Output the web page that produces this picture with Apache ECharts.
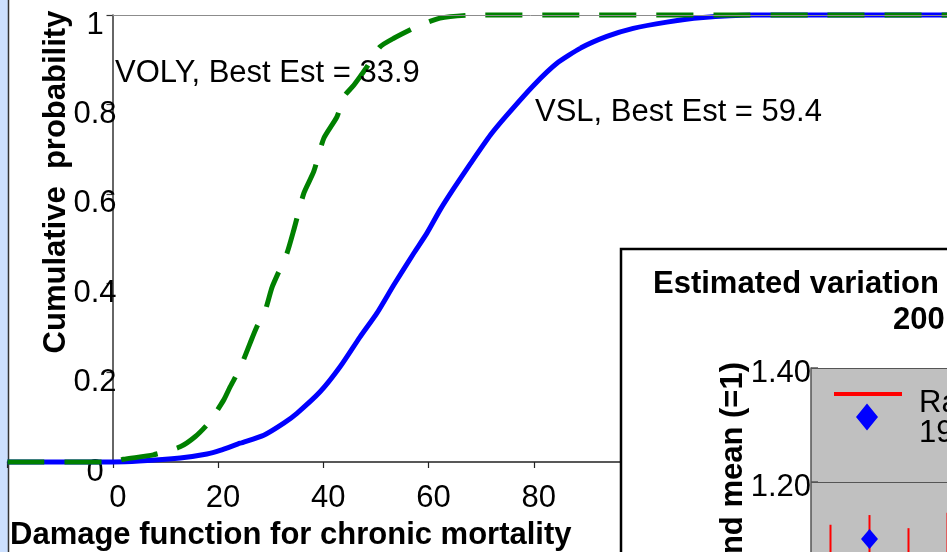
<!DOCTYPE html>
<html>
<head>
<meta charset="utf-8">
<title>Damage function for chronic mortality</title>
<script src="https://cdn.jsdelivr.net/npm/echarts@6/dist/echarts.min.js"></script>
<style>
  html, body { margin: 0; padding: 0; overflow: hidden; background: #fff; }
  #main { width: 947px; height: 552px; }
</style>
</head>
<body>
<div id="main"></div>
<script>
// cumulative probability curves
const vslX = [-20, 0, 5, 12.8, 17.9, 20.4, 24.2, 28.7, 32.5, 35.0, 39.4, 43.2, 47.0, 50.2, 53.4, 57.2, 59.7, 62.2, 64.8, 68.0, 71.8, 74.9, 80.0, 84.4, 88.9, 93.9, 98.9, 105.3, 111.6, 121.7, 160];
const vslP = [0, 0, 0.002, 0.009, 0.018, 0.026, 0.042, 0.060, 0.087, 0.109, 0.157, 0.213, 0.280, 0.333, 0.396, 0.467, 0.512, 0.564, 0.612, 0.668, 0.732, 0.776, 0.843, 0.892, 0.926, 0.952, 0.970, 0.984, 0.994, 1, 1];
const volyX = [-20, 0, 2, 7.7, 12.8, 15.7, 18.2, 21.1, 22.3, 24.2, 26.1, 27.4, 29.0, 30.3, 33.1, 34.4, 36.3, 38.2, 40.1, 42.6, 43.9, 45.8, 48.3, 50.8, 53.4, 57.8, 62.2, 68.6, 160];
const volyP = [0, 0, 0.006, 0.016, 0.034, 0.057, 0.087, 0.139, 0.168, 0.210, 0.266, 0.303, 0.340, 0.392, 0.467, 0.519, 0.601, 0.650, 0.724, 0.772, 0.817, 0.843, 0.884, 0.929, 0.948, 0.974, 0.993, 1, 1];

// inset chart (only its top left corner is visible)
const insetCats = ['1', '2', '3', '4'];
const insetHigh = [1.125, 1.142, 1.119, 1.146];
const insetLow = [0.975, 1.058, 0.96, 0.945];
const insetMean = [1.05, 1.10, 1.04, 1.045];

const FONT = '"Liberation Sans", Arial, sans-serif';

const chart = echarts.init(document.getElementById('main'));

const vslData = vslX.map((x, i) => [x, vslP[i]]);
const volyData = volyX.map((x, i) => [x, volyP[i]]);
const barData = insetCats.map((c, i) => [i, insetHigh[i], insetLow[i]]);

function errorBar(params, api) {
  const i = api.value(0);
  const top = api.coord([i, api.value(1)]);
  const bot = api.coord([i, api.value(2)]);
  return {
    type: 'line',
    shape: { x1: top[0], y1: top[1], x2: bot[0], y2: bot[1] },
    style: { stroke: '#ff0000', lineWidth: 2 }
  };
}

// legend icons: the visible mark sits at the top of the icon box so the
// legend text ends up lower, as in the picture
const lineIcon = 'path://M0,0h68v4h-68Z M0,21.9h0.01v0.1h-0.01Z';
const diamondIcon = 'path://M11,0L22,13.5L11,27L0,13.5Z M11,58.9h0.01v0.1h-0.01Z';

chart.setOption({
  animation: false,
  backgroundColor: '#ffffff',
  grid: [
    { left: 7.5, top: 15, width: 947.25, height: 447, outerBoundsMode: 'none', containLabel: false },
    { left: 811, top: 368, width: 156, height: 342, show: true, backgroundColor: '#c0c0c0',
      borderWidth: 0, outerBoundsMode: 'none', containLabel: false, z: 110 }
  ],
  xAxis: [
    {
      type: 'value', gridIndex: 0, min: -20, max: 160, interval: 20,
      axisLine: { onZero: true, lineStyle: { color: '#222', width: 1.5 } },
      axisTick: { length: 6, lineStyle: { color: '#222', width: 1.2 } },
      axisLabel: {
        margin: 21, padding: [0, 0, 0, 10], fontSize: 31, fontFamily: FONT, color: '#000',
        formatter: v => (v < 0 ? '' : String(v))
      },
      splitLine: { show: false }
    },
    {
      type: 'category', gridIndex: 1, data: insetCats, z: 110,
      axisLine: { show: false }, axisTick: { show: false }, axisLabel: { show: false }
    }
  ],
  yAxis: [
    {
      // sits at x = 0 of the main scale
      type: 'value', gridIndex: 0, min: 0, max: 1, interval: 0.2, offset: -105,
      axisLine: { show: true, onZero: false, lineStyle: { color: '#333', width: 1.5 } },
      axisTick: { show: true, length: 6, lineStyle: { color: '#333', width: 1.2 } },
      axisLabel: {
        margin: 17.5, align: 'center', verticalAlign: 'top', lineHeight: 20, fontSize: 31,
        fontFamily: FONT, color: '#000', showMinLabel: true, showMaxLabel: true
      },
      splitLine: { show: false }
    },
    {
      type: 'value', gridIndex: 1, min: 0.8, max: 1.4, interval: 0.2, z: 110,
      axisLine: { show: true, onZero: false, lineStyle: { color: '#555', width: 1.5 } },
      axisTick: { show: true, inside: true, length: 7, lineStyle: { color: '#555', width: 1.5 } },
      axisLabel: {
        margin: 0, verticalAlign: 'top', lineHeight: 10, fontSize: 31, fontFamily: FONT, color: '#000',
        showMaxLabel: true, formatter: v => v.toFixed(2)
      },
      splitLine: { show: true, lineStyle: { color: '#555', width: 1.2 } }
    }
  ],
  legend: [
    {
      data: [{ name: 'Ra', icon: lineIcon, itemStyle: { color: '#ff0000', borderWidth: 0, opacity: 1 } }],
      left: 834, top: 387.5, padding: 0, orient: 'vertical', itemWidth: 68, itemHeight: 22,
      selectedMode: false, z: 115,
      textStyle: { fontSize: 31, lineHeight: 31, fontFamily: FONT, color: '#000', padding: [0, 0, 0, 12] }
    },
    {
      data: [{ name: '19', icon: diamondIcon, itemStyle: { color: '#0000ff', borderWidth: 0, opacity: 1 } }],
      left: 856, top: 403.5, padding: 0, orient: 'vertical', itemWidth: 22, itemHeight: 59,
      selectedMode: false, z: 115,
      textStyle: { fontSize: 31, lineHeight: 31, fontFamily: FONT, color: '#000', padding: [0, 0, 0, 36] }
    }
  ],
  series: [
    {
      name: 'plot top', type: 'line', xAxisIndex: 0, yAxisIndex: 0, data: [], z: 1,
      markLine: {
        silent: true, symbol: ['none', 'none'], label: { show: false },
        lineStyle: { color: '#8c8c8c', width: 1, type: 'solid' },
        data: [[{ coord: [0, 1] }, { coord: [160, 1] }]]
      }
    },
    {
      name: 'VSL', type: 'line', xAxisIndex: 0, yAxisIndex: 0, data: vslData,
      showSymbol: false, symbol: 'none', smooth: 0.2, clip: false, z: 3,
      lineStyle: { color: '#0000ff', width: 5 }
    },
    {
      name: 'VOLY', type: 'line', xAxisIndex: 0, yAxisIndex: 0, data: volyData,
      showSymbol: false, symbol: 'none', smooth: 0.2, clip: false, z: 4,
      lineStyle: { color: '#008000', width: 5, type: [37, 20] }
    },
    {
      name: 'Ra', type: 'custom', xAxisIndex: 1, yAxisIndex: 1, data: barData,
      renderItem: errorBar, itemStyle: { color: '#ff0000' }, z: 112
    },
    {
      name: '19', type: 'scatter', xAxisIndex: 1, yAxisIndex: 1, data: insetMean,
      symbol: 'diamond', symbolSize: [17, 20], itemStyle: { color: '#0000ff', opacity: 1 }, z: 113
    }
  ],
  graphic: [
    { type: 'rect', z: 0, shape: { x: 0, y: 0, width: 8, height: 552 }, style: { fill: '#cce0ff' } },
    { type: 'line', z: 1, shape: { x1: 8.5, y1: 0, x2: 8.5, y2: 552 }, style: { stroke: '#333', lineWidth: 1.5 } },
    {
      type: 'text', z: 10, x: 115, y: 73,
      style: { text: 'VOLY, Best Est = 33.9', font: '31px ' + FONT, fill: '#000', align: 'left', verticalAlign: 'middle' }
    },
    {
      type: 'text', z: 10, x: 535, y: 112,
      style: { text: 'VSL, Best Est = 59.4', font: '31px ' + FONT, fill: '#000', align: 'left', verticalAlign: 'middle' }
    },
    {
      type: 'text', z: 10, x: 56, y: 182, rotation: Math.PI / 2,
      style: { text: 'Cumulative  probability', font: 'bold 31px ' + FONT, fill: '#000', align: 'center', verticalAlign: 'middle' }
    },
    {
      type: 'text', z: 10, x: 10, y: 535,
      style: { text: 'Damage function for chronic mortality', font: 'bold 31px ' + FONT, fill: '#000', align: 'left', verticalAlign: 'middle' }
    },
    // inset frame and texts
    {
      type: 'rect', z: 100, shape: { x: 621, y: 249, width: 400, height: 400 },
      style: { fill: '#ffffff', stroke: '#000', lineWidth: 2.5 }
    },
    {
      type: 'text', z: 111, x: 653, y: 284,
      style: { text: 'Estimated variation', font: 'bold 31px ' + FONT, fill: '#000', align: 'left', verticalAlign: 'middle' }
    },
    {
      type: 'text', z: 111, x: 893, y: 320,
      style: { text: '200', font: 'bold 31px ' + FONT, fill: '#000', align: 'left', verticalAlign: 'middle' }
    },
    {
      type: 'text', z: 111, x: 733, y: 362, rotation: Math.PI / 2,
      style: { text: 'nd mean (=1)', font: 'bold 31px ' + FONT, fill: '#000', align: 'right', verticalAlign: 'middle' }
    }
  ]
});
</script>
</body>
</html>
